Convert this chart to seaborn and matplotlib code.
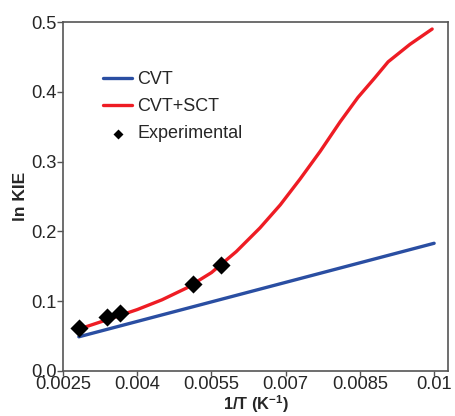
import pandas as pd
import seaborn as sns
import matplotlib.pyplot as plt

# data
cvt_x = [0.00282, 0.0100]
cvt_y = [0.049, 0.183]

sct_x = [0.00282, 0.0035, 0.0040, 0.0045, 0.0050, 0.0055, 0.0060, 0.00648,
         0.00689, 0.00729, 0.00770, 0.00810, 0.00846, 0.00880, 0.00907,
         0.00951, 0.00996]
sct_y = [0.060, 0.076, 0.088, 0.102, 0.119, 0.141, 0.171, 0.205,
         0.238, 0.275, 0.315, 0.357, 0.392, 0.420, 0.443,
         0.468, 0.490]

exp_x = [0.00282, 0.00338, 0.00365, 0.00512, 0.00569]
exp_y = [0.061, 0.077, 0.083, 0.124, 0.152]

xticks = [0.0025, 0.004, 0.0055, 0.007, 0.0085, 0.01]
xtick_labels = ["0.0025", "0.004", "0.0055", "0.007", "0.0085", "0.01"]
yticks = [0.0, 0.1, 0.2, 0.3, 0.4, 0.5]

sns.set_style("white")
plt.rcParams['font.family'] = ['Liberation Sans', 'DejaVu Sans']

cvt = pd.DataFrame({"x": cvt_x, "y": cvt_y})
sct = pd.DataFrame({"x": sct_x, "y": sct_y})
exp = pd.DataFrame({"x": exp_x, "y": exp_y})

fig = plt.figure(figsize=(4.55, 4.16), dpi=100)
ax = fig.add_axes([0.1385, 0.1082, 0.8461, 0.8388])

sns.lineplot(data=cvt, x="x", y="y", ax=ax, color="#2a4ea2", lw=2.4, label="CVT")
sns.lineplot(data=sct, x="x", y="y", ax=ax, color="#ee1c24", lw=2.4, label="CVT+SCT")
sns.scatterplot(data=exp, x="x", y="y", ax=ax, marker="D", s=85, color="black",
                edgecolor="black", linewidth=0, label="Experimental", zorder=5)

ax.set_xlim(0.0025, 0.01028)
ax.set_ylim(0.0, 0.5)
ax.set_xticks(xticks)
ax.set_xticklabels(xtick_labels)
ax.set_yticks(yticks)
ax.set_yticklabels([f"{v:.1f}" for v in yticks])
ax.tick_params(axis='both', labelsize=13.2, direction='out', length=4, width=1,
               color="#555555", pad=0.5, bottom=True, left=True)
ax.tick_params(axis='x', pad=0, length=3.5)
ax.set_xlabel("1/T (K$^{\\mathregular{-1}}$)", fontsize=11.8, fontweight="bold",
              va="bottom")
ax.xaxis.set_label_coords(0.5, -0.126)
ax.set_ylabel("ln KIE", fontsize=12.5, fontweight="bold", labelpad=2)
for sp in ax.spines.values():
    sp.set_color("#555555")
    sp.set_linewidth(1.2)

leg = ax.legend(loc="upper left", bbox_to_anchor=(0.062, 0.905), frameon=False,
                fontsize=13, handlelength=1.6, handletextpad=0.3,
                labelspacing=0.55, markerscale=0.55)

plt.savefig("out.png", dpi=100)
